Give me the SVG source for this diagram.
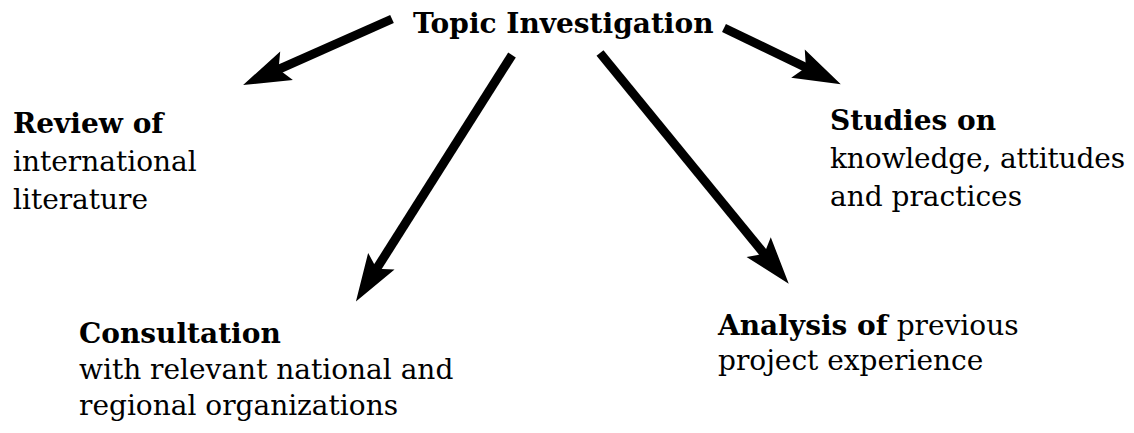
<svg xmlns="http://www.w3.org/2000/svg" width="1134" height="433" viewBox="0 0 1134 433">
<style>
text{font-family:"DejaVu Serif","Liberation Serif",serif;font-size:28px;fill:#000}
.b{font-weight:bold}
.shaft{stroke:#000;stroke-width:9;fill:none}
</style>
<defs>
<marker id="ah" markerUnits="userSpaceOnUse" orient="auto" refX="0" refY="0" markerWidth="60" markerHeight="40" viewBox="-10 -16 45 32" overflow="visible">
<path d="M30,0 L-8,-12.5 L-1,0 L-8,12.5 Z" fill="#000"/>
</marker>
</defs>
<rect width="1134" height="433" fill="#fff"/>
<g id="topic"><text class="b" x="413" y="33">Topic Investigation</text></g>
<g id="review"><text class="b" x="13" y="133">Review of</text><text x="13" y="171">international</text><text x="13" y="209">literature</text></g>
<g id="studies"><text class="b" x="830" y="130">Studies on</text><text x="830" y="168" textLength="295" lengthAdjust="spacing">knowledge, attitudes</text><text x="830" y="206">and practices</text></g>
<g id="consultation"><text class="b" x="79" y="343">Consultation</text><text x="79" y="379">with relevant national and</text><text x="79" y="415">regional organizations</text></g>
<g id="analysis"><text x="718" y="335"><tspan class="b">Analysis of</tspan> previous</text><text x="718" y="370">project experience</text></g>
<g id="connectors">
<line class="shaft" x1="392" y1="19" x2="277.4" y2="69.8" marker-end="url(#ah)"/>
<line class="shaft" x1="724" y1="28" x2="807" y2="68" marker-end="url(#ah)"/>
<line class="shaft" x1="512" y1="55" x2="376" y2="269.7" marker-end="url(#ah)"/>
<line class="shaft" x1="600" y1="53" x2="765" y2="254.8" marker-end="url(#ah)"/>
</g>
</svg>
